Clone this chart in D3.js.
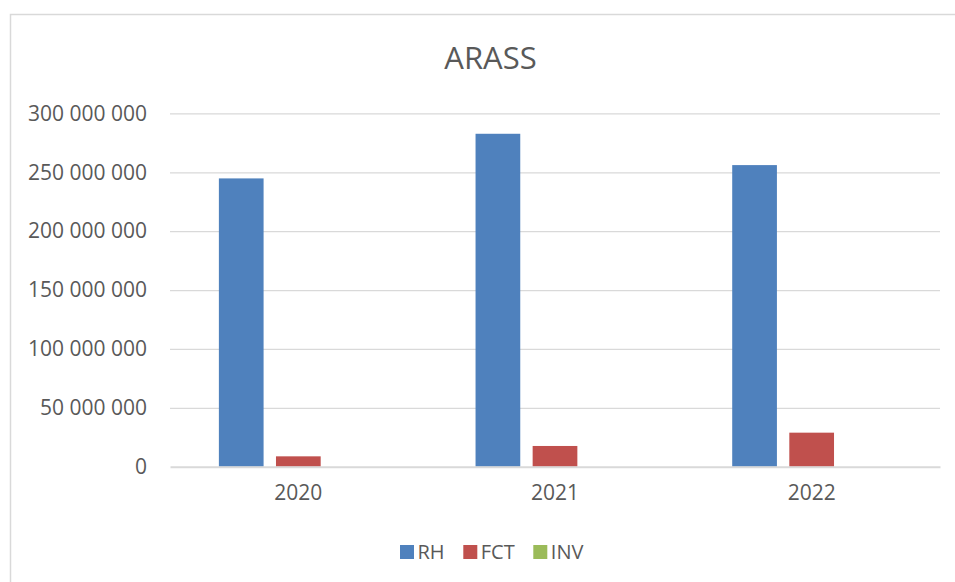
<!DOCTYPE html>
<html>
<head>
<meta charset="utf-8">
<script src="https://cdn.jsdelivr.net/npm/d3@7"></script>
<style>
  body { margin: 0; background: #fff; }
  text { font-family: "Open Sans", "Liberation Sans", sans-serif; fill: #595959; }
</style>
</head>
<body>
<div id="chart"></div>
<script>
// chart data
var years = ['2020', '2021', '2022'];
var seriesNames = ['RH', 'FCT', 'INV'];
var rhValues = [244800000, 282700000, 256100000];
var fctValues = [8800000, 17600000, 28900000];
var invValues = [0, 0, 0];
var yTicks = [0, 50000000, 100000000, 150000000, 200000000, 250000000, 300000000];
var colors = ['#4F81BD', '#C0504D', '#9BBB59'];

var width = 955, height = 582;

var svg = d3.select('#chart')
  .append('svg')
  .attr('width', width)
  .attr('height', height);

// chart border
svg.append('rect')
  .attr('x', 10.5)
  .attr('y', 14.5)
  .attr('width', 980)
  .attr('height', 640)
  .attr('fill', 'none')
  .attr('stroke', '#d9d9d9')
  .attr('stroke-width', 1.5);

var margin = {top: 113.4, left: 170, right: 15, bottom: 115.3};
var plotW = width - margin.left - margin.right,
    plotH = height - margin.top - margin.bottom;

var g = svg.append('g')
  .attr('transform', 'translate(' + margin.left + ',' + margin.top + ')');

// scales
var x0 = d3.scaleBand().domain(years).range([0, plotW]);
var x1 = d3.scaleBand().domain(seriesNames).range([0, x0.bandwidth()])
  .paddingInner(0.217).paddingOuter(0.856);
var y = d3.scaleLinear().domain([0, 300000000]).range([plotH, 0]);

var fmt = function(d) { return d3.format(',')(d).replace(/,/g, ' '); };

// gridlines
g.append('g')
  .call(d3.axisLeft(y).tickValues(yTicks.slice(1)).tickSize(-plotW).tickFormat(''))
  .call(function(a) { a.select('.domain').remove(); })
  .selectAll('line')
  .attr('stroke', '#d9d9d9')
  .attr('stroke-width', 1.2);

// y labels
g.append('g')
  .call(d3.axisLeft(y).tickValues(yTicks).tickSize(0).tickPadding(23).tickFormat(fmt))
  .call(function(a) { a.select('.domain').remove(); })
  .selectAll('text')
  .attr('font-size', '21px')
  .attr('fill', '#595959');

// bars
var data = years.map(function(yr, i) {
  return {year: yr, values: [rhValues[i], fctValues[i], invValues[i]]};
});

var groups = g.selectAll('.year')
  .data(data)
  .enter().append('g')
  .attr('transform', function(d) { return 'translate(' + x0(d.year) + ',0)'; });

groups.selectAll('rect')
  .data(function(d) { return d.values.map(function(v, i) { return {name: seriesNames[i], value: v, c: colors[i]}; }); })
  .enter().append('rect')
  .attr('x', function(d) { return x1(d.name); })
  .attr('y', function(d) { return y(d.value); })
  .attr('width', x1.bandwidth())
  .attr('height', function(d) { return plotH - y(d.value); })
  .attr('fill', function(d) { return d.c; });

// x axis
g.append('g')
  .attr('transform', 'translate(0,' + plotH + ')')
  .call(d3.axisBottom(x0).tickSize(0).tickPadding(18))
  .call(function(a) {
    a.select('.domain').attr('stroke', '#d9d9d9').attr('stroke-width', 2);
    a.selectAll('text').attr('font-size', '21px').attr('fill', '#595959');
  });

// title
svg.append('text')
  .attr('x', 490.5)
  .attr('y', 69)
  .attr('text-anchor', 'middle')
  .attr('font-size', '31px')
  .text('ARASS');

// legend
var legendX = [400, 463.3, 533.3];
var legend = svg.selectAll('.legend')
  .data(seriesNames)
  .enter().append('g')
  .attr('class', 'legend')
  .attr('transform', function(d, i) { return 'translate(' + legendX[i] + ',545)'; });

legend.append('rect')
  .attr('width', 14)
  .attr('height', 14)
  .attr('fill', function(d, i) { return colors[i]; });

legend.append('text')
  .attr('x', 17.5)
  .attr('y', 14)
  .attr('font-size', '20px')
  .text(function(d) { return d; });
</script>
</body>
</html>
